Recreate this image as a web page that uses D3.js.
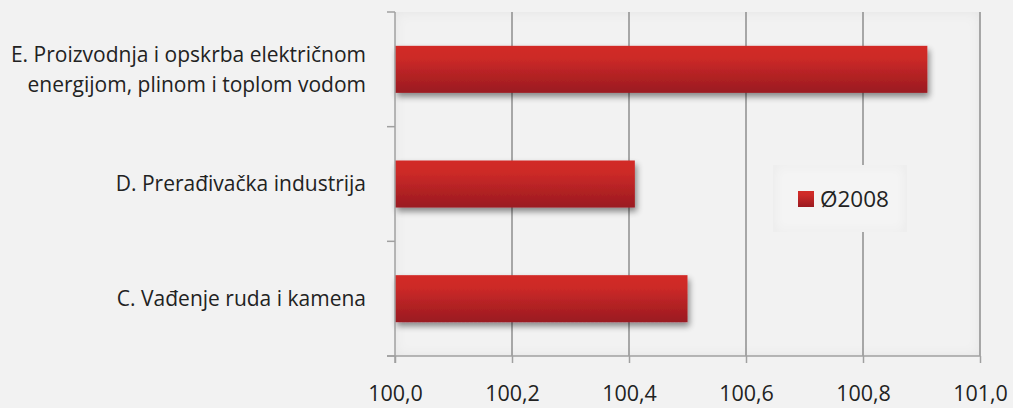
<!DOCTYPE html>
<html>
<head>
<meta charset="utf-8">
<script src="https://cdn.jsdelivr.net/npm/d3@7"></script>
<style>
  body { margin: 0; background: #f2f2f2; }
  svg { display: block; font-family: "Open Sans", Lato, sans-serif; }
</style>
</head>
<body>
<div id="chart"></div>
<script>
// data
var categories = [
  "E. Proizvodnja i opskrba električnom|energijom, plinom i toplom vodom",
  "D. Prerađivačka industrija",
  "C. Vađenje ruda i kamena"
];
var values = [100.91, 100.41, 100.50];
var xTicks = [100.0, 100.2, 100.4, 100.6, 100.8, 101.0];
var seriesName = "Ø2008";

var svgWidth = 1013;
var svgHeight = 408;
var margin = { top: 12, right: 33, bottom: 52, left: 395 };
var width = svgWidth - margin.left - margin.right;
var height = svgHeight - margin.top - margin.bottom;

var svg = d3.select("#chart").append("svg")
  .attr("width", svgWidth)
  .attr("height", svgHeight);

var defs = svg.append("defs");

var barGrad = defs.append("linearGradient")
  .attr("id", "barGrad").attr("x1", 0).attr("y1", 0).attr("x2", 0).attr("y2", 1);
barGrad.append("stop").attr("offset", "0%").attr("stop-color", "#d22c28");
barGrad.append("stop").attr("offset", "25%").attr("stop-color", "#cd2a28");
barGrad.append("stop").attr("offset", "100%").attr("stop-color", "#9a1a20");

var shadow = defs.append("filter").attr("id", "shadow")
  .attr("x", "-5%").attr("y", "-20%").attr("width", "110%").attr("height", "160%");
shadow.append("feGaussianBlur").attr("in", "SourceAlpha").attr("stdDeviation", 3);
shadow.append("feOffset").attr("dx", 2).attr("dy", 4).attr("result", "off");
shadow.append("feComponentTransfer").append("feFuncA").attr("type", "linear").attr("slope", 0.45);
var merge = shadow.append("feMerge");
merge.append("feMergeNode");
merge.append("feMergeNode").attr("in", "SourceGraphic");

// inner shadow for plot area and legend box
var inner = defs.append("filter").attr("id", "inner")
  .attr("x", "-5%").attr("y", "-5%").attr("width", "110%").attr("height", "110%");
inner.append("feFlood").attr("flood-color", "#000").attr("result", "f");
inner.append("feComposite").attr("in", "f").attr("in2", "SourceAlpha").attr("operator", "out").attr("result", "o");
inner.append("feGaussianBlur").attr("in", "o").attr("stdDeviation", 6).attr("result", "b");
inner.append("feComposite").attr("in", "b").attr("in2", "SourceAlpha").attr("operator", "in").attr("result", "s");
inner.append("feComponentTransfer").attr("in", "s").attr("result", "s2")
  .append("feFuncA").attr("type", "linear").attr("slope", 0.14);
var m2 = inner.append("feMerge");
m2.append("feMergeNode").attr("in", "SourceGraphic");
m2.append("feMergeNode").attr("in", "s2");

var chartGroup = svg.append("g")
  .attr("transform", `translate(${margin.left}, ${margin.top})`);

var x = d3.scaleLinear().domain([100.0, 101.0]).range([0, width]);
var y = d3.scaleBand().domain(categories).range([0, height]).paddingInner(0.59).paddingOuter(0.295);
var yOuter = d3.scaleBand().domain(categories).range([0, height]);

// plot area background
chartGroup.append("rect")
  .attr("x", 0).attr("y", 0)
  .attr("width", width).attr("height", height)
  .attr("fill", "#f2f2f2")
  .attr("filter", "url(#inner)");

// gridlines
chartGroup.selectAll(".grid")
  .data(xTicks.slice(1))
  .enter().append("line")
  .attr("x1", d => x(d)).attr("x2", d => x(d))
  .attr("y1", 0).attr("y2", height)
  .attr("stroke", "#8e8e8e").attr("stroke-width", 1.5);

// bars
chartGroup.selectAll(".bar")
  .data(values)
  .enter().append("rect")
  .attr("x", x(100.0))
  .attr("y", (d, i) => y(categories[i]))
  .attr("width", d => x(d) - x(100.0))
  .attr("height", y.bandwidth())
  .attr("fill", "url(#barGrad)")
  .attr("filter", "url(#shadow)");

// x axis
var bottomAxis = d3.axisBottom(x)
  .tickValues(xTicks)
  .tickSize(7)
  .tickPadding(23)
  .tickFormat(d => d3.format(".1f")(d).replace(".", ","));

var xAxis = chartGroup.append("g")
  .attr("transform", `translate(0, ${height})`)
  .call(bottomAxis);
xAxis.attr("font-family", null);
xAxis.select(".domain").attr("stroke", "#a0a0a0").attr("stroke-width", 1.5)
  .attr("d", `M-8,0H${width}`);
xAxis.selectAll(".tick line").attr("stroke", "#a0a0a0").attr("stroke-width", 1.5);
xAxis.selectAll(".tick text")
  .attr("fill", "#222")
  .style("font-size", "21.5px");

// y axis with category boundary ticks
var yAxis = chartGroup.append("g");
yAxis.append("line")
  .attr("x1", 0).attr("x2", 0).attr("y1", 0).attr("y2", height + 7)
  .attr("stroke", "#a0a0a0").attr("stroke-width", 1.5);
var bounds = categories.map(c => yOuter(c)).concat([height]);
yAxis.selectAll(".ytick")
  .data(bounds)
  .enter().append("line")
  .attr("x1", -8).attr("x2", 0)
  .attr("y1", d => d).attr("y2", d => d)
  .attr("stroke", "#a0a0a0").attr("stroke-width", 1.5);

// category labels
var labels = chartGroup.selectAll(".cat")
  .data(categories)
  .enter().append("text")
  .attr("text-anchor", "end")
  .attr("fill", "#222")
  .style("font-size", "21px");
labels.each(function(c) {
  var lines = c.split("|");
  var cy = y(c) + y.bandwidth() / 2;
  var t = d3.select(this);
  lines.forEach(function(l, j) {
    t.append("tspan")
      .attr("x", -29)
      .attr("y", cy + (j - (lines.length - 1) / 2) * 30)
      .attr("dy", "0.35em")
      .text(l);
  });
});

// legend
var legend = svg.append("g").attr("transform", "translate(773, 165)");
legend.append("rect")
  .attr("width", 134).attr("height", 67)
  .attr("fill", "#f4f4f4")
  .attr("filter", "url(#inner)");
legend.append("rect")
  .attr("x", 25).attr("y", 26).attr("width", 16).attr("height", 16)
  .attr("fill", "url(#barGrad)");
legend.append("text")
  .attr("x", 47).attr("y", 34).attr("dy", "0.36em")
  .attr("fill", "#222")
  .style("font-size", "22.5px")
  .text(seriesName);
</script>
</body>
</html>
